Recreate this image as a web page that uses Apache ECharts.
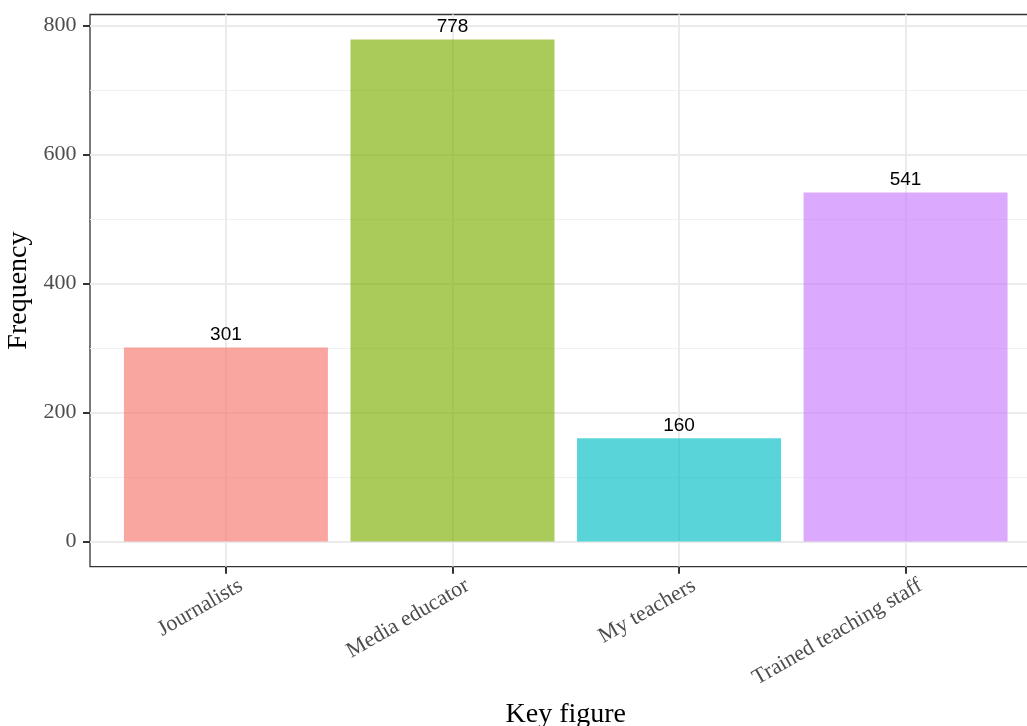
<!DOCTYPE html>
<html>
<head>
<meta charset="utf-8">
<script src="https://cdn.jsdelivr.net/npm/echarts@6/dist/echarts.min.js"></script>
<style>html,body{margin:0;padding:0;background:#fff}#c{width:1027px;height:726px}</style>
</head>
<body>
<div id="c"></div>
<script>
const categories = ["Journalists", "Media educator", "My teachers", "Trained teaching staff"];
const frequencies = [301, 778, 160, 541];
const barColors = ["rgba(248,118,109,0.65)", "rgba(124,174,0,0.65)", "rgba(0,191,196,0.65)", "rgba(199,124,255,0.65)"];
const yTicks = [0, 200, 400, 600, 800];
const yMinorTicks = [100, 300, 500, 700];
const positions = [1, 2, 3, 4];

const serif = "'Liberation Serif', 'DejaVu Serif', serif";
const yMax = Math.max(...frequencies) * 1.05;
const yMin = -Math.max(...frequencies) * 0.05;

const chart = echarts.init(document.getElementById('c'), null, {renderer: 'canvas'});
chart.setOption({
  animation: false,
  backgroundColor: '#fff',
  grid: {
    left: 90, top: 14.5, width: 951.5, height: 552.2,
    outerBoundsMode: 'none',
    show: true, borderColor: '#333', borderWidth: 1.3, backgroundColor: 'transparent',
    containLabel: false
  },
  xAxis: {
    type: 'value', min: 0.4, max: 4.6,
    name: 'Key figure', nameLocation: 'middle', nameGap: 134, nameMoveOverlap: false,
    nameTextStyle: {fontFamily: serif, fontSize: 28, color: '#000'},
    axisLine: {show: false, onZero: false},
    axisTick: {show: true, customValues: positions, length: 7, lineStyle: {color: '#333', width: 2}},
    axisLabel: {
      customValues: positions, rotate: 30, margin: -8.5,
      verticalAlign: 'top', lineHeight: 60,
      fontFamily: serif, fontSize: 22, color: '#4D4D4D',
      formatter: v => categories[Math.round(v) - 1] || ''
    },
    splitLine: {show: true, lineStyle: {color: '#EBEBEB', width: 2}}
  },
  yAxis: [{
    type: 'value', min: yMin, max: yMax,
    name: 'Frequency', nameLocation: 'middle', nameGap: 54, nameRotate: 90,
    nameTextStyle: {fontFamily: serif, fontSize: 28, color: '#000'},
    axisLine: {show: false, onZero: false},
    axisTick: {show: true, customValues: yTicks, length: 7, lineStyle: {color: '#333', width: 2}},
    axisLabel: {customValues: yTicks, margin: 13.5, fontFamily: serif, fontSize: 22, color: '#4D4D4D'},
    splitLine: {show: true, lineStyle: {color: '#EBEBEB', width: 2}}
  }, {
    type: 'value', min: yMin, max: yMax, position: 'left',
    axisLine: {show: false, onZero: false},
    axisTick: {show: false, customValues: yMinorTicks},
    axisLabel: {show: false, customValues: yMinorTicks},
    splitLine: {show: true, lineStyle: {color: '#F0F0F0', width: 1}}
  }],
  series: [{
    type: 'bar',
    barWidth: 204,
    data: frequencies.map((v, i) => ({value: [positions[i], v], itemStyle: {color: barColors[i]}})),
    label: {
      show: true, position: 'top', distance: 3,
      fontFamily: "'Liberation Sans', Arial, sans-serif", fontSize: 19, color: '#000',
      formatter: p => p.value[1]
    },
    z: 3
  }]
});
</script>
</body>
</html>
